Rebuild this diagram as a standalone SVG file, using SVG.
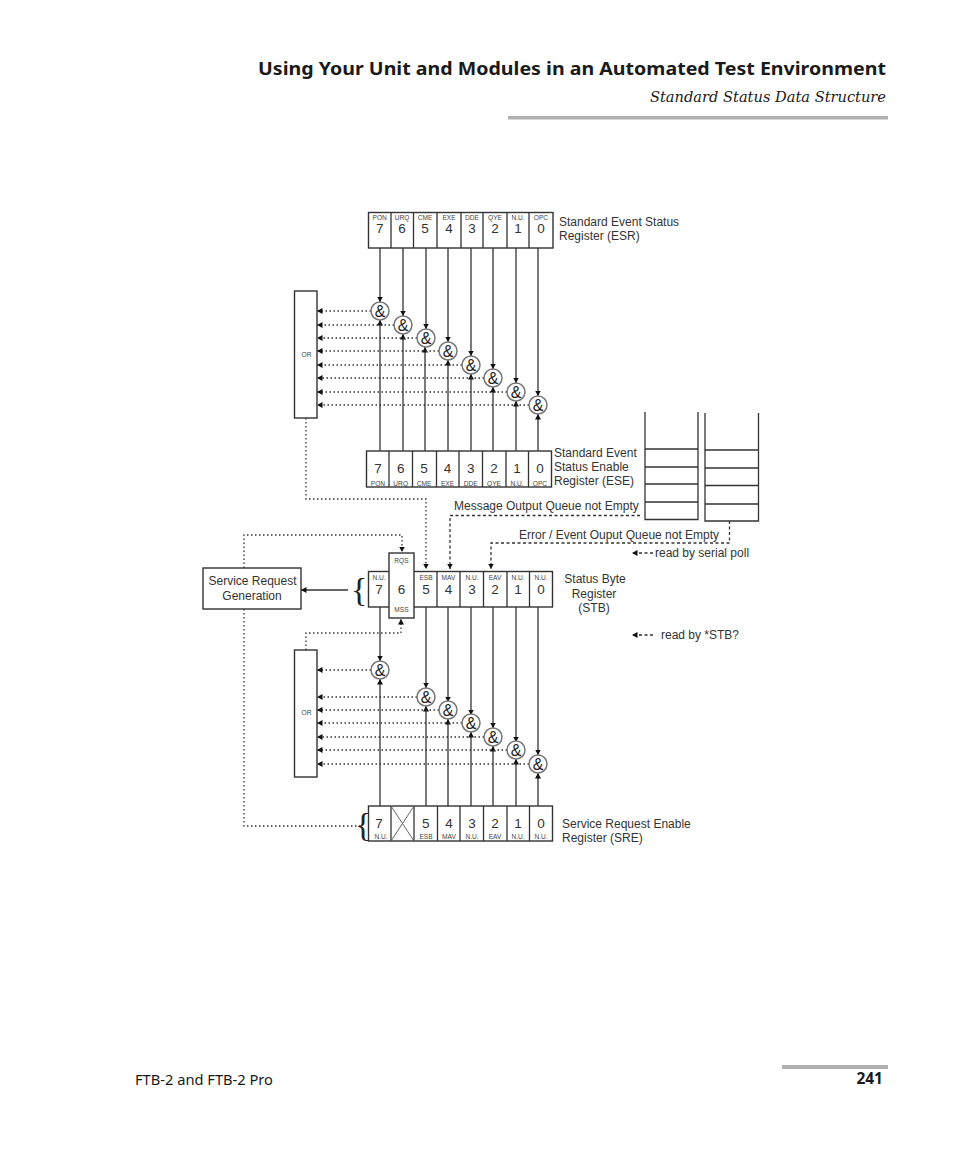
<svg xmlns="http://www.w3.org/2000/svg" width="954" height="1159" viewBox="0 0 954 1159">
<style>
text{font-family:"Liberation Sans",Arial,sans-serif;fill:#333}
.box{fill:#fff;stroke:#333;stroke-width:1.4}
.div{stroke:#333;stroke-width:1.3;fill:none}
.sol{stroke:#333;stroke-width:1.3;fill:none}
.dot{stroke:#333;stroke-width:1.3;fill:none;stroke-dasharray:1.5 2.5}
.dash{stroke:#333;stroke-width:1.3;fill:none;stroke-dasharray:3 2.5}
.and{fill:#fff;stroke:#777;stroke-width:1.5}
.amp{font-size:16px;text-anchor:middle;fill:#222}
.dg{font-size:13.500px;text-anchor:middle}
.sm{font-size:6.600px;text-anchor:middle;fill:#444}
.lb{font-size:12px}
.mid{text-anchor:middle}
.arr{marker-end:url(#a)}
</style>
<defs><marker id="a" markerUnits="userSpaceOnUse" markerWidth="7" markerHeight="7" refX="5.500" refY="3.500" orient="auto"><path d="M0 0.500L5.500 3.500L0 6.500Z" fill="#111"/></marker></defs>

<g id="header">
<text x="886" y="75" text-anchor="end" textLength="628" lengthAdjust="spacingAndGlyphs" style="font-family:'Noto Sans',sans-serif;font-weight:bold;font-size:18px;fill:#1a1a1a">Using Your Unit and Modules in an Automated Test Environment</text>
<text x="886" y="102" text-anchor="end" textLength="236" lengthAdjust="spacingAndGlyphs" style="font-family:'DejaVu Serif',serif;font-style:italic;font-size:15px;fill:#1a1a1a">Standard Status Data Structure</text>
<rect x="508" y="116" width="380" height="3.500" fill="#b0b0b0"/>
</g>

<g id="connectors">
<path class="sol arr" d="M380 248V302"/><path class="sol arr" d="M403 248V316"/><path class="sol arr" d="M426 248V329"/><path class="sol arr" d="M448 248V342"/><path class="sol arr" d="M471 248V356"/><path class="sol arr" d="M493 248V369"/><path class="sol arr" d="M516 248V383"/><path class="sol arr" d="M538 248V396"/>
<path class="sol arr" d="M380 451V320"/><path class="sol arr" d="M403 451V334"/><path class="sol arr" d="M425 451V347"/><path class="sol arr" d="M448 451V360"/><path class="sol arr" d="M471 451V374"/><path class="sol arr" d="M493 451V387"/><path class="sol arr" d="M516 451V401"/><path class="sol arr" d="M538 451V414"/>
<path class="dot arr" d="M371 311H317"/><path class="dot arr" d="M394 325H317"/><path class="dot arr" d="M417 338H317"/><path class="dot arr" d="M439 351H317"/><path class="dot arr" d="M462 365H317"/><path class="dot arr" d="M484 378H317"/><path class="dot arr" d="M507 392H317"/><path class="dot arr" d="M529 405H317"/>
<path class="dot arr" d="M306 418V499H426V569"/>
<path class="dash arr" d="M640 515.500H450V569"/>
<path class="dash arr" d="M729.500 521V543H491V569"/>
<path class="dot arr" d="M244 568V535H402V552"/>
<path class="dot" d="M244 609V826H360"/>
<path class="sol arr" d="M348 590H301"/>
<path class="dot arr" d="M306 650V633H401V619"/>
<path class="sol arr" d="M380 607V661"/><path class="sol arr" d="M426 607V688"/><path class="sol arr" d="M448 607V702"/><path class="sol arr" d="M471 607V715"/><path class="sol arr" d="M493 607V728"/><path class="sol arr" d="M516 607V742"/><path class="sol arr" d="M538 607V755"/>
<path class="sol arr" d="M380 806V679"/><path class="sol arr" d="M426 806V706"/><path class="sol arr" d="M448 806V719"/><path class="sol arr" d="M471 806V732"/><path class="sol arr" d="M493 806V746"/><path class="sol arr" d="M516 806V759"/><path class="sol arr" d="M538 806V773"/>
<path class="dot arr" d="M371 670H317"/><path class="dot arr" d="M417 697H317"/><path class="dot arr" d="M439 710H317"/><path class="dot arr" d="M462 723H317"/><path class="dot arr" d="M484 737H317"/><path class="dot arr" d="M507 750H317"/><path class="dot arr" d="M529 764H317"/>
<path class="dash arr" d="M653 553H632"/>
<path class="dash arr" d="M653 635H632"/>
</g>

<g id="esr">
<rect class="box" x="368.500" y="212.500" width="184.500" height="35.500"/>
<path class="div" d="M391 212.500V248M413.500 212.500V248M437 212.500V248M461 212.500V248M483 212.500V248M507 212.500V248M529 212.500V248"/>
<text class="sm" x="379.700" y="220">PON</text><text class="sm" x="402" y="220">URQ</text><text class="sm" x="425" y="220">CME</text><text class="sm" x="449" y="220">EXE</text><text class="sm" x="472" y="220">DDE</text><text class="sm" x="495" y="220">QYE</text><text class="sm" x="518" y="220">N.U.</text><text class="sm" x="541" y="220">OPC</text>
<text class="dg" x="379.700" y="233">7</text><text class="dg" x="402" y="233">6</text><text class="dg" x="425" y="233">5</text><text class="dg" x="449" y="233">4</text><text class="dg" x="472" y="233">3</text><text class="dg" x="495" y="233">2</text><text class="dg" x="518" y="233">1</text><text class="dg" x="541" y="233">0</text>
<text class="lb" x="559" y="226">Standard Event Status</text><text class="lb" x="559" y="240">Register (ESR)</text>
</g>

<g id="or1"><rect class="box" x="294.500" y="291" width="22.500" height="127"/><text class="sm" x="306.500" y="356.500">OR</text></g>

<g id="ese">
<rect class="box" x="366.500" y="451" width="185" height="36"/>
<path class="div" d="M389 451V487M412.500 451V487M436.500 451V487M459 451V487M482.500 451V487M506 451V487M528.500 451V487"/>
<text class="dg" x="378" y="473">7</text><text class="dg" x="400.700" y="473">6</text><text class="dg" x="424" y="473">5</text><text class="dg" x="447.500" y="473">4</text><text class="dg" x="470.700" y="473">3</text><text class="dg" x="494" y="473">2</text><text class="dg" x="517" y="473">1</text><text class="dg" x="540" y="473">0</text>
<text class="sm" x="378" y="486">PON</text><text class="sm" x="400.700" y="486">URQ</text><text class="sm" x="424" y="486">CME</text><text class="sm" x="447.500" y="486">EXE</text><text class="sm" x="470.700" y="486">DDE</text><text class="sm" x="494" y="486">QYE</text><text class="sm" x="517" y="486">N.U.</text><text class="sm" x="540" y="486">OPC</text>
<text class="lb" x="554" y="457">Standard Event</text><text class="lb" x="554" y="471">Status Enable</text><text class="lb" x="554" y="485">Register (ESE)</text>
</g>

<g id="queue1"><path class="sol" d="M645 412V519.500H698V412M645 449H698M645 467H698M645 484H698M645 502H698"/></g>
<g id="queue2"><path class="sol" d="M705 413V521H758.500V413M705 450H758.500M705 468H758.500M705 485.500H758.500M705 504H758.500"/></g>
<g id="queue-labels">
<text class="lb" x="454" y="510">Message Output Queue not Empty</text>
<text class="lb" x="519" y="539">Error / Event Ouput Queue not Empty</text>
<text class="lb" x="655" y="557">read by serial poll</text>
<text class="lb" x="661" y="639">read by *STB?</text>
</g>

<g id="srq"><rect class="box" x="203" y="568" width="98" height="41"/><text class="lb mid" x="252.500" y="585">Service Request</text><text class="lb mid" x="252" y="600">Generation</text></g>

<g id="stb">
<rect class="box" x="368.500" y="571.500" width="184" height="35.500"/>
<path class="div" d="M437 571.500V607M460 571.500V607M483.500 571.500V607M507 571.500V607M529.500 571.500V607"/>
<rect class="box" x="389" y="553" width="25" height="65"/>
<text class="sm" x="379" y="580">N.U.</text><text class="sm" x="401.500" y="563">RQS</text><text class="sm" x="426" y="580">ESB</text><text class="sm" x="448.500" y="580">MAV</text><text class="sm" x="472" y="580">N.U.</text><text class="sm" x="495" y="580">EAV</text><text class="sm" x="518" y="580">N.U.</text><text class="sm" x="541" y="580">N.U.</text>
<text class="sm" x="401.500" y="612">MSS</text>
<text class="dg" x="379" y="594">7</text><text class="dg" x="401.500" y="594">6</text><text class="dg" x="426" y="594">5</text><text class="dg" x="448.500" y="594">4</text><text class="dg" x="472" y="594">3</text><text class="dg" x="495" y="594">2</text><text class="dg" x="518" y="594">1</text><text class="dg" x="541" y="594">0</text>
<text class="lb mid" x="595" y="583">Status Byte</text><text class="lb mid" x="594" y="598">Register</text><text class="lb mid" x="594" y="612">(STB)</text>
<text x="351" y="601" style="font-family:'Liberation Serif',serif;font-size:34px;fill:#222">{</text>
</g>

<g id="or2"><rect class="box" x="294.500" y="650" width="22.500" height="127"/><text class="sm" x="306.500" y="714.500">OR</text></g>

<g id="sre">
<rect class="box" x="368.500" y="806" width="184" height="35"/>
<path class="div" d="M391 806V841M414 806V841M437.500 806V841M460 806V841M483.500 806V841M507 806V841M529.500 806V841"/>
<path d="M391 806L414 841M414 806L391 841" stroke="#666" stroke-width="1" fill="none"/>
<text class="dg" x="379" y="828">7</text><text class="dg" x="425.700" y="828">5</text><text class="dg" x="449" y="828">4</text><text class="dg" x="472" y="828">3</text><text class="dg" x="495" y="828">2</text><text class="dg" x="518" y="828">1</text><text class="dg" x="541" y="828">0</text>
<text class="sm" x="381" y="839">N.U.</text><text class="sm" x="426" y="839">ESB</text><text class="sm" x="449" y="839">MAV</text><text class="sm" x="472" y="839">N.U.</text><text class="sm" x="495" y="839">EAV</text><text class="sm" x="518" y="839">N.U.</text><text class="sm" x="541" y="839">N.U.</text>
<text class="lb" x="562" y="828">Service Request Enable</text><text class="lb" x="562" y="842">Register (SRE)</text>
<text x="355" y="836" style="font-family:'Liberation Serif',serif;font-size:34px;fill:#222">{</text>
</g>

<g id="and-gates">
<g id="a1"><circle class="and" cx="380" cy="311" r="9"/><text class="amp" x="380" y="316.500">&amp;</text></g>
<g id="a2"><circle class="and" cx="403" cy="325" r="9"/><text class="amp" x="403" y="330.500">&amp;</text></g>
<g id="a3"><circle class="and" cx="426" cy="338" r="9"/><text class="amp" x="426" y="343.500">&amp;</text></g>
<g id="a4"><circle class="and" cx="448" cy="351" r="9"/><text class="amp" x="448" y="356.500">&amp;</text></g>
<g id="a5"><circle class="and" cx="471" cy="365" r="9"/><text class="amp" x="471" y="370.500">&amp;</text></g>
<g id="a6"><circle class="and" cx="493" cy="378" r="9"/><text class="amp" x="493" y="383.500">&amp;</text></g>
<g id="a7"><circle class="and" cx="516" cy="392" r="9"/><text class="amp" x="516" y="397.500">&amp;</text></g>
<g id="a8"><circle class="and" cx="538" cy="405" r="9"/><text class="amp" x="538" y="410.500">&amp;</text></g>
<g id="b1"><circle class="and" cx="380" cy="670" r="9"/><text class="amp" x="380" y="675.500">&amp;</text></g>
<g id="b2"><circle class="and" cx="426" cy="697" r="9"/><text class="amp" x="426" y="702.500">&amp;</text></g>
<g id="b3"><circle class="and" cx="448" cy="710" r="9"/><text class="amp" x="448" y="715.500">&amp;</text></g>
<g id="b4"><circle class="and" cx="471" cy="723" r="9"/><text class="amp" x="471" y="728.500">&amp;</text></g>
<g id="b5"><circle class="and" cx="493" cy="737" r="9"/><text class="amp" x="493" y="742.500">&amp;</text></g>
<g id="b6"><circle class="and" cx="516" cy="750" r="9"/><text class="amp" x="516" y="755.500">&amp;</text></g>
<g id="b7"><circle class="and" cx="538" cy="764" r="9"/><text class="amp" x="538" y="769.500">&amp;</text></g>
</g>

<g id="footer">
<text x="135" y="1085" textLength="138" lengthAdjust="spacingAndGlyphs" style="font-family:'Noto Sans',sans-serif;font-size:13.500px;fill:#1a1a1a">FTB-2 and FTB-2 Pro</text>
<text x="883" y="1084" text-anchor="end" style="font-family:'Noto Sans',sans-serif;font-weight:bold;font-size:15.500px;fill:#1a1a1a">241</text>
<rect x="782" y="1065" width="106" height="4" fill="#b0b0b0"/>
</g>
</svg>
